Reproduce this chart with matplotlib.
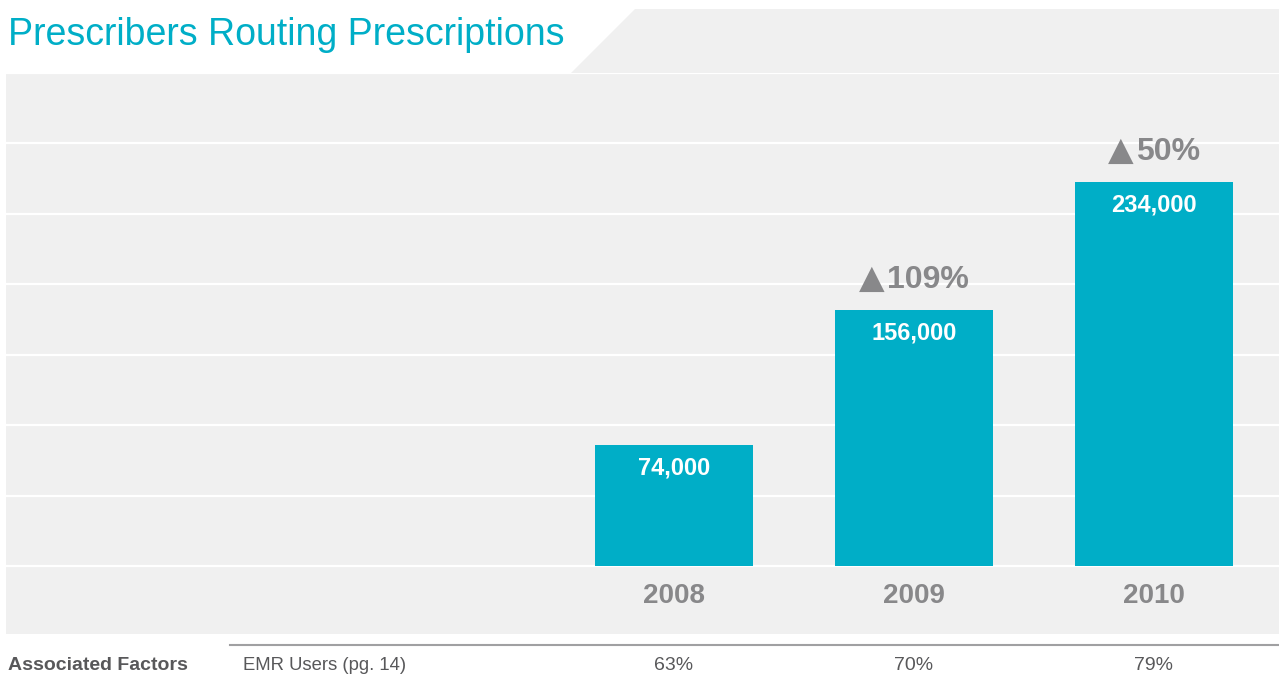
import matplotlib.pyplot as plt
import matplotlib.transforms as mtransforms
from matplotlib.patches import Polygon
from matplotlib.offsetbox import TextArea, HPacker, AnnotationBbox
import numpy as np

plt.rcParams['font.family'] = ['Liberation Sans', 'DejaVu Sans']

years = ['2008', '2009', '2010']
prescribers = [74000, 156000, 234000]
growth = ['', '109%', '50%']
emr_users = ['63%', '70%', '79%']

W, H = 1279, 677
teal = '#00AEC7'
panel = '#F0F0F0'
gray_txt = '#88888A'
dark_txt = '#58585A'


def fx(px):
    return px / W


def fy(py):
    return 1 - py / H


fig = plt.figure(figsize=(W / 100, H / 100), dpi=100)
fig.patch.set_facecolor('white')

# main panel axes
ax = fig.add_axes([fx(6), fy(634), fx(1279) - fx(6), fy(73) - fy(634)])
ax.set_facecolor(panel)
for s in ax.spines.values():
    s.set_visible(False)

x = np.arange(len(years))
ax.bar(x, prescribers, width=0.658, color=teal, zorder=3)
ax.set_xlim(-2.783, 2.521)
ax.set_ylim(-41100, 300000)
ax.set_yticks(np.linspace(0, 300000, 8))
ax.grid(axis='y', color='white', linewidth=1.6, zorder=1)
ax.set_axisbelow(True)
ax.tick_params(left=False, bottom=False, labelleft=False, labelbottom=False)

for i, v in enumerate(prescribers):
    ax.annotate(f'{v:,}', (x[i], v), xytext=(0, -17), textcoords='offset points',
                ha='center', va='center', color='white', fontsize=17, fontweight='bold', zorder=4)
    ax.annotate(years[i], (x[i], 0), xytext=(0, -21), textcoords='offset points',
                ha='center', va='center', color=gray_txt, fontsize=20, fontweight='bold')
    if growth[i]:
        tri = TextArea('\u25b2', textprops=dict(color=gray_txt, fontsize=24,
                                                 family='DejaVu Sans'))
        num = TextArea(growth[i], textprops=dict(color=gray_txt, fontsize=23,
                                                  fontweight='bold'))
        box = HPacker(children=[tri, num], align='baseline', pad=0, sep=2)
        ab = AnnotationBbox(box, (x[i], v), xybox=(0, 22.5), boxcoords='offset points',
                            frameon=False, box_alignment=(0.5, 0.5), zorder=4)
        ax.add_artist(ab)

# top tab of the panel with slanted edge
tab = Polygon([(fx(571), fy(73)), (fx(635), fy(9)), (fx(1279), fy(9)), (fx(1279), fy(73))],
              closed=True, transform=fig.transFigure, facecolor=panel, edgecolor='none')
fig.add_artist(tab)

fig.text(fx(8), fy(35), 'Prescribers Routing Prescriptions', color=teal, fontsize=27,
         ha='left', va='center')

# associated factors row
fig.add_artist(plt.Line2D([fx(230), fx(1279)], [fy(645), fy(645)], transform=fig.transFigure,
                          color='#A0A0A2', linewidth=1.5))
fig.text(fx(8), fy(666), 'Associated Factors', color=dark_txt, fontsize=14,
         fontweight='bold', ha='left', va='center')
fig.text(fx(243), fy(666), 'EMR Users (pg. 14)', color=dark_txt, fontsize=13.3,
         ha='left', va='center')
trans = mtransforms.blended_transform_factory(ax.transData, fig.transFigure)
for i, p in enumerate(emr_users):
    ax.text(x[i], fy(666), p, transform=trans, color=dark_txt, fontsize=14,
            ha='center', va='center', clip_on=False)

fig.savefig('out.png', dpi=100, facecolor='white')
